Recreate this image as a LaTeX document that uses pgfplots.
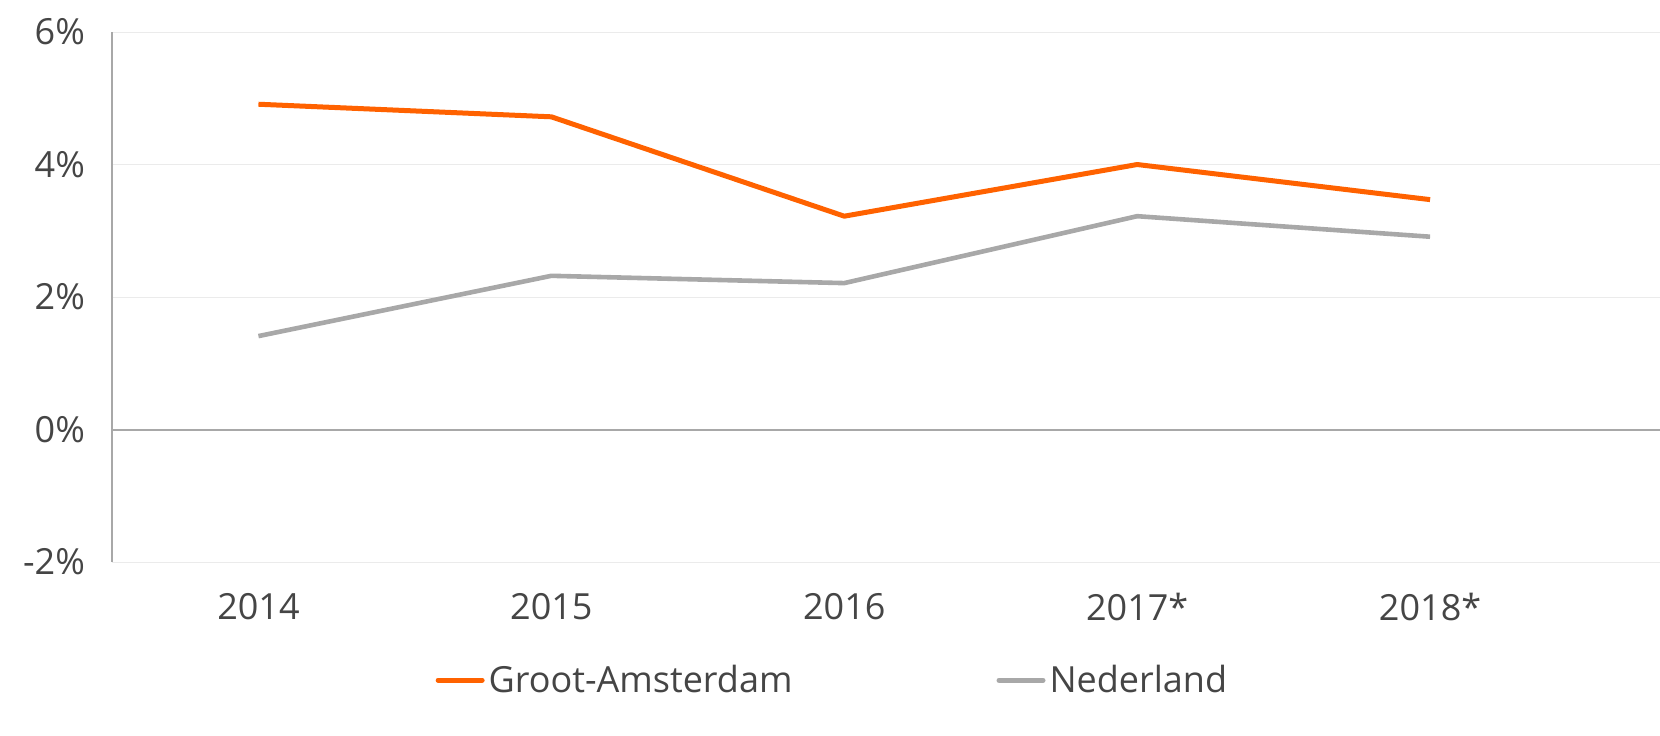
\documentclass[border=0pt]{standalone}
\usepackage{pgfplots}
\pgfplotsset{compat=1.18}
\usepackage{fontspec}
\setmainfont{Open Sans}
\definecolor{ingorange}{HTML}{FF6200}
\definecolor{nlgrey}{HTML}{A8A8A8}
\definecolor{txtgrey}{HTML}{454545}
\begin{document}
\begin{tikzpicture}
\useasboundingbox (0,0) rectangle (830pt,367.5pt);
\begin{axis}[
    at={(56pt,86.5pt)}, anchor=south west,
    scale only axis,
    width=774pt, height=265pt,
    xmin=-0.5, xmax=4.785,
    ymin=-2, ymax=6,
    xtick={0,1,2,3,4},
    xticklabels={2014,2015,2016,2017*,2018*},
    ytick={-2,0,2,4,6},
    yticklabel={\pgfmathprintnumber{\tick}\%},
    /pgf/number format/assume math mode=true,
    tick style={draw=none},
    axis x line*=bottom,
    x axis line style={draw=none},
    axis y line*=left,
    y axis line style={draw=nlgrey, line width=1pt, -},
    ymajorgrids=true,
    grid style={draw=black!8, line width=0.5pt},
    ticklabel style={font=\fontsize{18}{21}\selectfont, text=txtgrey},
    xticklabel style={yshift=-12pt},
    yticklabel style={xshift=-10pt},
    clip=false,
    legend columns=2,
    legend style={draw=none, fill=none, at={(0.466,-0.223)}, anchor=center,
        font=\fontsize{18}{21}\selectfont, text=txtgrey,
        /tikz/every even column/.append style={column sep=100pt}},
    legend image code/.code={\draw[#1, line width=2.5pt, line cap=round] (0pt,0pt) -- (22pt,0pt);},
]
\draw[nlgrey, line width=1pt] (axis cs:-0.5,0) -- (axis cs:4.785,0);
\addplot[ingorange, line width=2.5pt, line join=round] coordinates {
    (0,4.91) (1,4.72) (2,3.22) (3,4.00) (4,3.47)
};
\addlegendentry{Groot-Amsterdam}
\addplot[nlgrey, line width=2.3pt, line join=round] coordinates {
    (0,1.41) (1,2.32) (2,2.21) (3,3.22) (4,2.91)
};
\addlegendentry{Nederland}
\end{axis}
\end{tikzpicture}
\end{document}
